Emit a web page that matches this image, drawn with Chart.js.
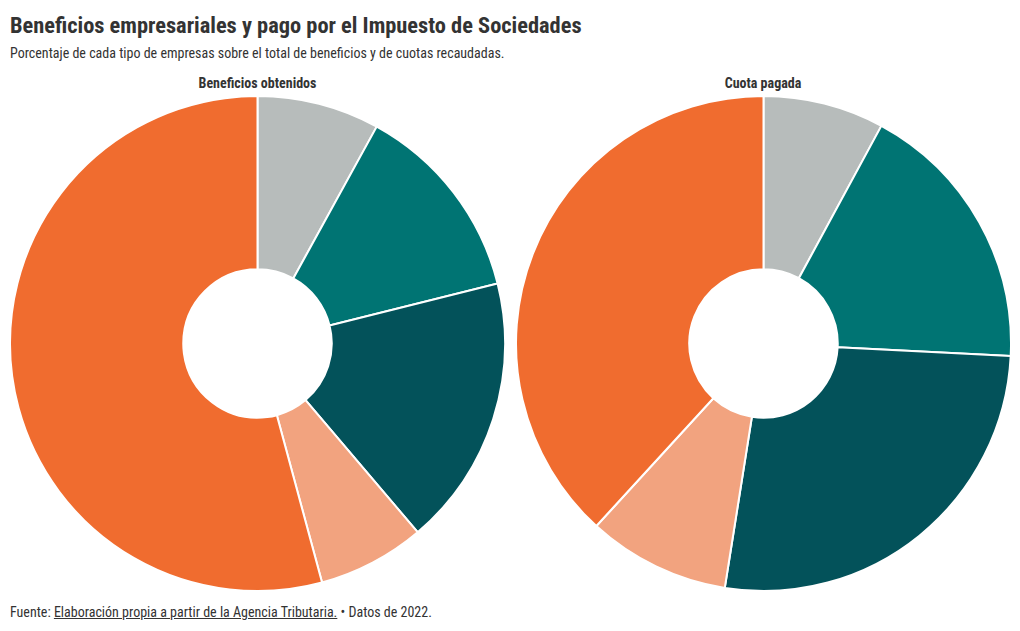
<!DOCTYPE html>
<html><head><meta charset="utf-8">
<script src="https://cdn.jsdelivr.net/npm/chart.js@4/dist/chart.umd.min.js"></script>
<style>
html,body{margin:0;padding:0;background:#fff;}
body{width:1020px;height:631px;position:relative;overflow:hidden;font-family:"Roboto Condensed","Roboto",sans-serif;color:#333;}
.t{position:absolute;white-space:nowrap;line-height:normal;}
#title{left:10px;top:12px;font-size:22.4px;font-weight:700;color:#333;}
#sub{left:10px;top:45px;font-size:14px;color:#333;}
#foot{left:10px;top:604px;font-size:14px;color:#333;}
#foot u{text-decoration:underline;}
.ct{position:absolute;top:75px;font-size:14px;font-weight:700;color:#333;white-space:nowrap;line-height:normal;}
.cv{position:absolute;top:95px;width:497px;height:497px;}
</style></head>
<body>
<div class="t" id="title">Beneficios empresariales y pago por el Impuesto de Sociedades</div>
<div class="t" id="sub">Porcentaje de cada tipo de empresas sobre el total de beneficios y de cuotas recaudadas.</div>
<div class="ct" id="ct1">Beneficios obtenidos</div>
<div class="ct" id="ct2">Cuota pagada</div>
<div class="cv" style="left:8.5px"><canvas id="c1"></canvas></div>
<div class="cv" style="left:515px"><canvas id="c2"></canvas></div>
<div class="t" id="foot">Fuente: <u>Elaboración propia a partir de la Agencia Tributaria.</u> • Datos de 2022.</div>
<script>
const categories = ["Tipo 1", "Tipo 2", "Tipo 3", "Tipo 4", "Tipo 5"];
const beneficios = [8.0, 13.1, 17.7, 7.0, 54.2];
const cuota = [7.9, 17.9, 26.7, 9.3, 38.2];
const colors = ["#b7bcbb", "#007473", "#03525a", "#f2a37f", "#f06c2f"];

function make(id, data){
  new Chart(document.getElementById(id), {
    type: 'doughnut',
    data: { labels: categories, datasets: [{ data: data, backgroundColor: colors, borderColor: '#ffffff', borderWidth: 2, hoverOffset: 0 }] },
    options: {
      responsive: true, maintainAspectRatio: false, animation: false,
      cutout: '30%',
      layout: { padding: 0 },
      plugins: { legend: { display: false }, tooltip: { enabled: false } }
    }
  });
}
make('c1', beneficios);
make('c2', cuota);

function center(id, cx){
  const el = document.getElementById(id);
  const w = el.getBoundingClientRect().width;
  el.style.left = (cx - w/2) + 'px';
}
center('ct1', 257.5);
center('ct2', 763);
</script>
</body></html>
